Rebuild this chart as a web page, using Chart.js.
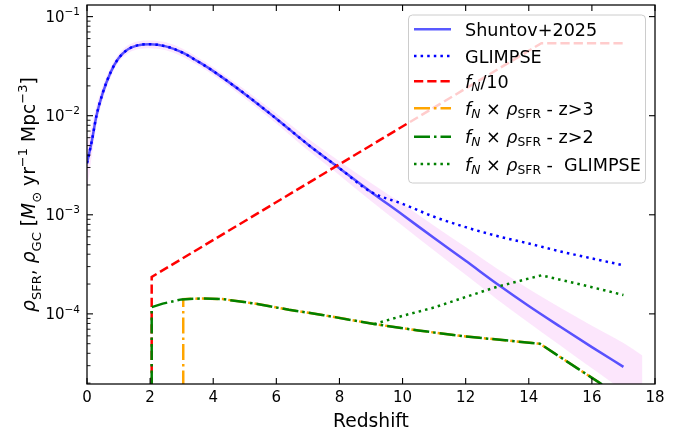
<!DOCTYPE html>
<html>
<head>
<meta charset="utf-8">
<script src="https://cdn.jsdelivr.net/npm/chart.js@4.4.1/dist/chart.umd.min.js"></script>
<style>
  html, body { margin: 0; padding: 0; background: #fff; }
</style>
</head>
<body>
<canvas id="chart" width="687" height="434"></canvas>
<script>
// ---- data ----
const shuntovZ = [0, 0.15, 0.3, 0.5, 0.75, 1, 1.3, 1.6, 2, 2.5, 3, 3.5, 4, 5, 6, 7, 8, 9, 10, 11, 12, 13, 14, 15, 16, 17];
const shuntovRho = [3.31e-3, 5.5e-3, 1.0e-2, 1.7e-2, 2.75e-2, 3.8e-2, 4.68e-2, 5.13e-2, 5.27e-2, 5.01e-2, 4.37e-2, 3.55e-2,
  2.82e-2, 1.66e-2, 9.33e-3, 5.13e-3, 2.95e-3, 1.7e-3, 1.0e-3, 5.82e-4, 3.43e-4, 2.0e-4, 1.2e-4, 7.41e-5, 4.62e-5, 2.92e-5];

const bandZ = [0, 0.15, 0.3, 0.5, 0.75, 1, 1.3, 1.6, 2, 2.5, 3, 3.5, 4, 5, 6, 7, 8, 9, 10, 11, 12, 13, 14, 15, 16, 17, 17.6];
const bandUpper = [5.13e-3, 7.76e-3, 1.26e-2, 2.0e-2, 3.09e-2, 4.17e-2, 5.13e-2, 5.62e-2, 5.75e-2, 5.5e-2, 4.79e-2, 3.89e-2,
  3.09e-2, 1.84e-2, 1.05e-2, 5.89e-3, 3.47e-3, 2.09e-3, 1.29e-3, 7.76e-4, 4.73e-4, 2.85e-4, 1.78e-4, 1.15e-4, 7.59e-5, 5.08e-5, 3.8e-5];
const bandLower = [1.74e-3, 3.89e-3, 7.94e-3, 1.45e-2, 2.45e-2, 3.47e-2, 4.27e-2, 4.68e-2, 4.79e-2, 4.57e-2, 3.98e-2, 3.24e-2,
  2.57e-2, 1.5e-2, 8.32e-3, 4.47e-3, 2.51e-3, 1.38e-3, 7.76e-4, 4.37e-4, 2.48e-4, 1.4e-4, 8.13e-5, 4.79e-5, 2.82e-5, 1.68e-5, 1.26e-5];

const glimpseZ = [0, 0.15, 0.3, 0.5, 0.75, 1, 1.3, 1.6, 2, 2.5, 3, 3.5, 4, 5, 6, 7, 8, 9, 10, 11, 12, 13, 14, 15, 16, 17];
const glimpseRho = [3.31e-3, 5.5e-3, 1.0e-2, 1.7e-2, 2.75e-2, 3.8e-2, 4.68e-2, 5.13e-2, 5.27e-2, 5.01e-2, 4.37e-2, 3.55e-2,
  2.82e-2, 1.66e-2, 9.33e-3, 5.13e-3, 2.95e-3, 1.7e-3, 1.29e-3, 9.55e-4, 7.5e-4, 6.1e-4, 5.13e-4, 4.27e-4, 3.63e-4, 3.09e-4];

const fnZ = [2.05, 2.05, 14.4, 17];
const fnRho = [1e-5, 2.36e-4, 5.4e-2, 5.4e-2];

const gcZ3 = [3.05, 3.05, 3.6, 4.3, 5.4, 6.4, 7.5, 9.1, 10.5, 11.9, 14.35, 16.5];
const gcRho3 = [1e-5, 1.41e-4, 1.43e-4, 1.41e-4, 1.26e-4, 1.1e-4, 9.7e-5, 7.9e-5, 6.8e-5, 5.96e-5, 5.0e-5, 1.78e-5];

const gcZ2 = [2.05, 2.05, 2.4, 3.0, 3.6, 4.3, 5.4, 6.4, 7.5, 9.1, 10.5, 11.9, 14.35, 16.5];
const gcRho2 = [1e-5, 1.17e-4, 1.27e-4, 1.4e-4, 1.43e-4, 1.41e-4, 1.26e-4, 1.1e-4, 9.7e-5, 7.9e-5, 6.8e-5, 5.96e-5, 5.0e-5, 1.78e-5];

const gcGlimpseZ = [9.1, 10, 11, 12, 13, 14.4, 15, 16, 17];
const gcGlimpseRho = [7.9e-5, 9.55e-5, 1.16e-4, 1.48e-4, 1.88e-4, 2.45e-4, 2.21e-4, 1.86e-4, 1.55e-4];

const xTicks = [0, 2, 4, 6, 8, 10, 12, 14, 16, 18];
const yDecades = [1e-4, 1e-3, 1e-2, 1e-1];
const yExponents = ['\u22124', '\u22123', '\u22122', '\u22121'];

// legend labels as rich-text runs (it = italic, sub = subscript)
const fnTimes = [{ t: 'f', it: 1 }, { t: 'N', it: 1, sub: 1 }, { t: ' \u00d7 ' }, { t: '\u03c1', it: 1 }, { t: 'SFR', sub: 1 }];
const seriesLabels = [
  [{ t: 'Shuntov+2025' }],
  [{ t: 'GLIMPSE' }],
  [{ t: 'f', it: 1 }, { t: 'N', it: 1, sub: 1 }, { t: '/10' }],
  [...fnTimes, { t: ' - z>3' }],
  [...fnTimes, { t: ' - z>2' }],
  [...fnTimes, { t: ' -  GLIMPSE' }],
];
const yLabel = [
  { t: '\u03c1', it: 1 }, { t: 'SFR', sub: 1 }, { t: ', ' }, { t: '\u03c1', it: 1 }, { t: 'GC', sub: 1 },
  { t: ' [' }, { t: 'M', it: 1 }, { t: '\u2299', sub: 1 }, { t: ' yr' }, { t: '\u22121', sup: 1 },
  { t: ' Mpc' }, { t: '\u22123', sup: 1 }, { t: ']' },
];

const pts = (xs, ys) => xs.map((x, i) => ({ x, y: ys[i] }));
const FONT = '"DejaVu Sans", "Liberation Sans", sans-serif';

// draw a run of text pieces; returns total width
function drawRich(ctx, x, y, parts, size, align, subDrop, supRise) {
  let w = 0;
  const segs = parts.map((p) => {
    const s = (p.sub || p.sup) ? size * 0.7 : size;
    const font = (p.it ? 'italic ' : '') + s.toFixed(2) + 'px ' + FONT;
    ctx.font = font;
    const pw = ctx.measureText(p.t).width;
    w += pw;
    return { t: p.t, font, w: pw, dy: p.sub ? subDrop : p.sup ? -supRise : 0 };
  });
  let cx = align === 'right' ? x - w : align === 'center' ? x - w / 2 : x;
  segs.forEach((s) => { ctx.font = s.font; ctx.fillText(s.t, cx, y + s.dy); cx += s.w; });
  return w;
}

const line = (ctx, x1, y1, x2, y2) => { ctx.beginPath(); ctx.moveTo(x1, y1); ctx.lineTo(x2, y2); ctx.stroke(); };

/** matplotlib-like frame: inward ticks, mathtext labels, legend box over the lines */
const mplAxes = {
  id: 'mplAxes',
  afterDraw(chart) {
    const { ctx, chartArea: a, scales: { x, y } } = chart;
    ctx.save();
    ctx.textBaseline = 'alphabetic';
    ctx.fillStyle = '#000';

    // legend (semi-transparent, like framealpha=0.8)
    const lx = 408.5, ly = 15, lw = 237, lh = 168;
    ctx.beginPath();
    ctx.roundRect(lx, ly, lw, lh, 4);
    ctx.fillStyle = 'rgba(255,255,255,0.8)';
    ctx.fill();
    ctx.strokeStyle = '#cccccc';
    ctx.lineWidth = 1;
    ctx.stroke();
    const rowY = [29.3, 56, 81.3, 108.3, 136.7, 164];
    const legendSets = chart.data.datasets.slice(2);
    legendSets.forEach((ds, i) => {
      ctx.save();
      ctx.strokeStyle = ds.borderColor;
      ctx.lineWidth = ds.borderWidth;
      ctx.setLineDash(ds.borderDash || []);
      ctx.lineCap = 'butt';
      line(ctx, 414, rowY[i], 451, rowY[i]);
      ctx.restore();
      ctx.fillStyle = '#000';
      drawRich(ctx, 465, rowY[i] + 6.7, seriesLabels[i], 17.6, 'left', 3, 7);
    });

    // frame
    ctx.strokeStyle = '#000';
    ctx.lineWidth = 1.25;
    ctx.setLineDash([]);
    ctx.strokeRect(a.left, a.top, a.right - a.left, a.bottom - a.top);

    // x ticks + labels
    ctx.lineWidth = 1.1;
    xTicks.forEach((v) => {
      const px = x.getPixelForValue(v);
      line(ctx, px, a.bottom, px, a.bottom - 6);
      line(ctx, px, a.top, px, a.top + 6);
      ctx.font = '15px ' + FONT;
      ctx.textAlign = 'center';
      ctx.fillText(String(v), px, 402);
    });
    ctx.textAlign = 'left';

    // y ticks: majors both sides, minors left
    yDecades.forEach((v, i) => {
      const py = y.getPixelForValue(v);
      line(ctx, a.left, py, a.left + 6, py);
      line(ctx, a.right, py, a.right - 6, py);
      drawRich(ctx, 80, py + 5, [{ t: '10' }, { t: yExponents[i], sup: 1 }], 15, 'right', 0, 6.3);
    });
    ctx.lineWidth = 0.9;
    [1e-5, 1e-4, 1e-3, 1e-2, 1e-1].forEach((d) => {
      for (let k = 2; k <= 9; k++) {
        const v = k * d;
        if (v < y.min || v > y.max) continue;
        const py = y.getPixelForValue(v);
        line(ctx, a.left, py, a.left + 3.5, py);
      }
    });

    // axis titles
    ctx.fillStyle = '#000';
    ctx.font = '18.7px ' + FONT;
    ctx.textAlign = 'center';
    ctx.fillText('Redshift', (a.left + a.right) / 2, 426.5);
    ctx.textAlign = 'left';
    ctx.save();
    ctx.translate(35, (a.top + a.bottom) / 2);
    ctx.rotate(-Math.PI / 2);
    drawRich(ctx, 0, 0, yLabel, 18.7, 'center', 5.5, 7.8);
    ctx.restore();

    ctx.restore();
  },
};

const base = { pointRadius: 0, borderWidth: 2.5, fill: false, clip: 0 };

new Chart(document.getElementById('chart'), {
  type: 'line',
  data: {
    datasets: [
      { ...base, label: 'band-up', data: pts(bandZ, bandUpper), borderWidth: 0, borderColor: 'rgba(0,0,0,0)',
        backgroundColor: 'rgba(238,130,238,0.2)', fill: '+1', cubicInterpolationMode: 'monotone', order: 10 },
      { ...base, label: 'band-lo', data: pts(bandZ, bandLower), borderWidth: 0, borderColor: 'rgba(0,0,0,0)',
        cubicInterpolationMode: 'monotone', order: 11 },
      { ...base, label: 'Shuntov+2025', data: pts(shuntovZ, shuntovRho), borderColor: 'rgba(0,0,255,0.65)',
        cubicInterpolationMode: 'monotone', order: 9 },
      { ...base, label: 'GLIMPSE', data: pts(glimpseZ, glimpseRho), borderColor: '#0000ff', borderDash: [2.5, 4.1],
        cubicInterpolationMode: 'monotone', order: 8 },
      { ...base, label: 'fN/10', data: pts(fnZ, fnRho), borderColor: '#ff0000', borderDash: [9.25, 4], order: 7 },
      { ...base, label: 'z>3', data: pts(gcZ3, gcRho3), borderColor: '#ffa500', borderDash: [16, 4, 2.5, 4], order: 6 },
      { ...base, label: 'z>2', data: pts(gcZ2, gcRho2), borderColor: '#008000', borderDash: [16, 4, 2.5, 4], order: 5 },
      { ...base, label: 'GC GLIMPSE', data: pts(gcGlimpseZ, gcGlimpseRho), borderColor: '#008000', borderDash: [2.5, 4.1], order: 4 },
    ],
  },
  plugins: [mplAxes],
  options: {
    responsive: false,
    animation: false,
    events: [],
    layout: { padding: { left: 0, top: 5, right: 32, bottom: 0 } },
    plugins: { legend: { display: false }, tooltip: { enabled: false } },
    scales: {
      x: {
        type: 'linear', min: 0, max: 18,
        grid: { display: false }, border: { display: false }, ticks: { display: false },
        afterFit: (s) => { s.height = 50; },
      },
      y: {
        type: 'logarithmic', min: 1.96e-5, max: 0.131,
        grid: { display: false }, border: { display: false }, ticks: { display: false },
        afterFit: (s) => { s.width = 87; },
      },
    },
  },
});
</script>
</body>
</html>
